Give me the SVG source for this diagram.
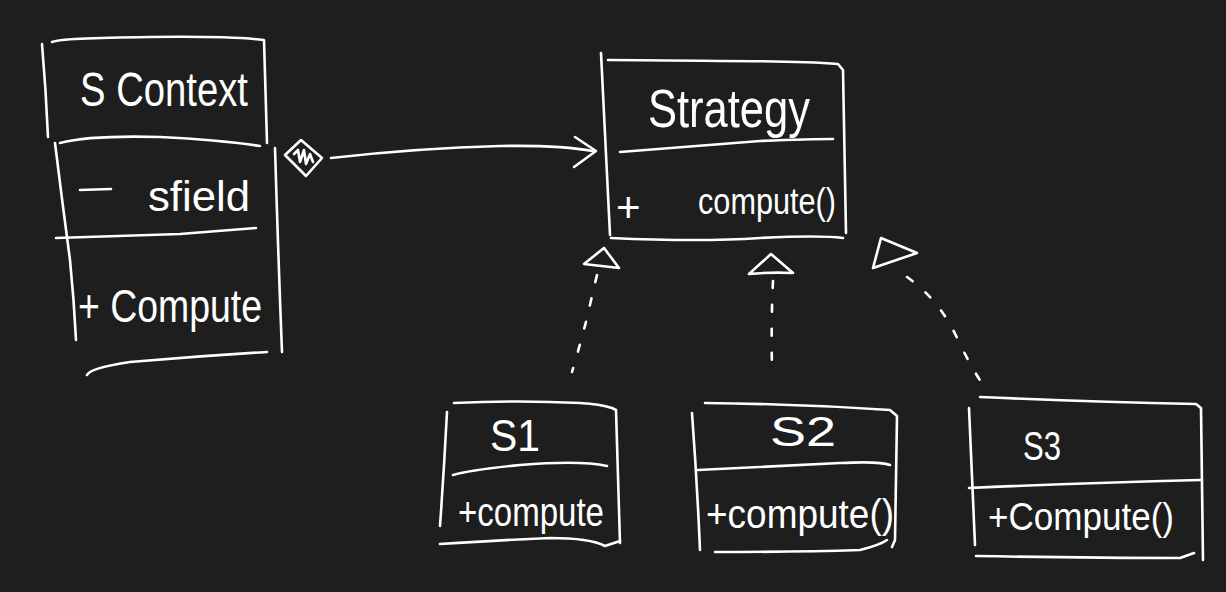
<svg xmlns="http://www.w3.org/2000/svg" width="1226" height="592" viewBox="0 0 1226 592">
<style>
.s{fill:none;stroke:#ffffff;stroke-width:2.6;stroke-linecap:round;stroke-linejoin:round}
.d{fill:none;stroke:#ffffff;stroke-width:2.6;stroke-linecap:round;stroke-dasharray:7 17}
.t{fill:#ffffff;font-family:"Liberation Sans","DejaVu Sans",sans-serif;font-weight:normal}
</style>
<rect width="1226" height="592" fill="#1e1e1e"/>
<g id="context">
<path class="s" d="M42 44 Q46 90 48 137"/>
<path class="s" d="M52 42 Q60 38 150 37 Q230 36 264 40 L267 143"/>
<path class="s" d="M55 143 Q62 200 70 260 Q74 300 76 340"/>
<path class="s" d="M60 143 Q90 135 160 137 Q220 140 260 146"/>
<path class="s" d="M56 238 Q120 236 180 234 Q230 230 256 228"/>
<path class="s" d="M275 148 Q278 250 282 352"/>
<path class="s" d="M267 352 Q200 356 130 362 Q90 368 87 375"/>
<text class="t" x="80" y="106" font-size="48" textLength="168" lengthAdjust="spacingAndGlyphs">S Context</text>
<path class="s" d="M80 190 L111 189"/>
<text class="t" x="148" y="211" font-size="42" textLength="102" lengthAdjust="spacingAndGlyphs">sfield</text>
<text class="t" x="78" y="322" font-size="46" textLength="184" lengthAdjust="spacingAndGlyphs">+ Compute</text>
</g>
<g id="strategy">
<path class="s" d="M601 53 Q605 140 610 235"/>
<path class="s" d="M608 60 Q640 60 720 61 Q800 61 838 64 L843 70 L846 233"/>
<path class="s" d="M620 152 Q700 146 760 141 Q810 139 833 139"/>
<path class="s" d="M611 238 Q700 242 760 238 Q820 235 843 238"/>
<text class="t" x="648" y="127" font-size="54" textLength="162" lengthAdjust="spacingAndGlyphs">Strategy</text>
<text class="t" x="616" y="222" font-size="42">+</text>
<text class="t" x="698" y="214" font-size="36" textLength="138" lengthAdjust="spacingAndGlyphs">compute()</text>
</g>
<g id="s1">
<path class="s" d="M447 412 Q444 470 440 526"/>
<path class="s" d="M454 403 Q520 400 580 403 Q600 404 612 408 L616 410 L620 543"/>
<path class="s" d="M453 475 Q470 470 520 465 Q580 460 607 466"/>
<path class="s" d="M440 544 Q500 540 550 538 Q590 538 605 546 L620 541"/>
<text class="t" x="490" y="451" font-size="44" textLength="50" lengthAdjust="spacingAndGlyphs">S1</text>
<text class="t" x="458" y="526" font-size="40" textLength="146" lengthAdjust="spacingAndGlyphs">+compute</text>
</g>
<g id="s2">
<path class="s" d="M692 413 Q697 480 700 550"/>
<path class="s" d="M705 403 Q800 404 890 410 L897 416 L895 540 L892 547"/>
<path class="s" d="M698 470 Q780 466 840 463 Q880 461 890 465"/>
<path class="s" d="M715 552 Q800 552 860 550 Q880 545 887 540"/>
<text class="t" x="770" y="446" font-size="42" textLength="66" lengthAdjust="spacingAndGlyphs">S2</text>
<text class="t" x="706" y="528" font-size="40" textLength="188" lengthAdjust="spacingAndGlyphs">+compute()</text>
</g>
<g id="s3">
<path class="s" d="M969 408 Q972 480 975 545"/>
<path class="s" d="M980 397 Q1090 402 1196 404 L1201 408 L1203 560"/>
<path class="s" d="M969 488 Q1080 483 1200 480"/>
<path class="s" d="M976 556 Q1090 558 1180 558 L1194 553"/>
<text class="t" x="1023" y="460" font-size="40" textLength="38" lengthAdjust="spacingAndGlyphs">S3</text>
<text class="t" x="988" y="530" font-size="38" textLength="186" lengthAdjust="spacingAndGlyphs">+Compute()</text>
</g>
<g id="connectors">
<path class="s" d="M285 155 L301 140 L322 158 L306 176 Z"/>
<path class="s" d="M294 154 L298 150 L300 162 L304 150 L306 164 L310 154 L313 162"/>
<path class="s" d="M331 158 Q420 148 500 146 Q560 145 593 151"/>
<path class="s" d="M575 137 L596 151 L574 167"/>
<path class="s" d="M584 264 L604 248 L619 268 Z"/>
<path class="d" d="M597 275 Q591 300 587 318 Q580 345 572 372"/>
<path class="s" d="M749 274 L771 254 L793 273 Q770 272 749 274"/>
<path class="d" d="M773 281 Q771 320 772 370"/>
<path class="s" d="M873 268 L881 238 L917 253 Z"/>
<path class="d" d="M907 277 Q940 300 958 340 Q970 365 983 385"/>
</g>
</svg>
